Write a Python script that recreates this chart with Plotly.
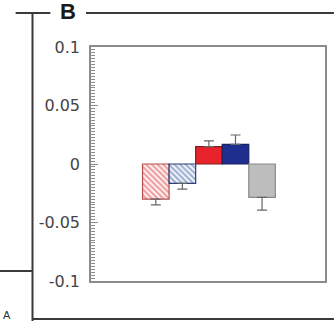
import plotly.graph_objects as go

categories = [0, 1, 2, 3, 4]
values = [-0.030, -0.0165, 0.0148, 0.0168, -0.0285]
errors = [0.005, 0.005, 0.005, 0.008, 0.011]
tick_vals = [-0.1, -0.05, 0, 0.05, 0.1]
tick_text = ["-0.1", "-0.05", "0", "0.05", "0.1"]

fill_colors = ["white", "white", "#e8232b", "#1f2f8f", "#bdbdbd"]
line_colors = ["#b05050", "#2a3f7a", "#7a2020", "#1a2060", "#8a8a8a"]
pat_shapes = ["\\", "\\", "", "", ""]
pat_fg = ["#e0403f", "#3f63a8", "#e8232b", "#1f2f8f", "#bdbdbd"]

W, H = 335, 321
L, R, T, B = 91, 8, 47, 40
pw, ph = W - L - R, H - T - B


def px(x):
    return (x - L) / pw


def py(y):
    return (H - B - y) / ph


fig = go.Figure()
for i, (c, v, e) in enumerate(zip(categories, values, errors)):
    marker = dict(color=fill_colors[i], line=dict(color=line_colors[i], width=1.2))
    if pat_shapes[i]:
        marker["pattern"] = dict(shape=pat_shapes[i], fgcolor=pat_fg[i], bgcolor="white",
                                 size=4, solidity=0.6, fillmode="overlay")
    fig.add_trace(go.Bar(
        x=[c], y=[v], width=1, marker=marker,
        error_y=dict(type="data", symmetric=False,
                     array=[e if v > 0 else 0], arrayminus=[e if v < 0 else 0],
                     color="#666666", thickness=1.2, width=5),
        showlegend=False,
    ))

line_col = "#3a3a3a"
shapes = [
    dict(type="line", xref="paper", yref="paper", x0=px(15), x1=px(50), y0=py(13), y1=py(13),
         line=dict(color=line_col, width=2)),
    dict(type="line", xref="paper", yref="paper", x0=px(86), x1=px(336), y0=py(13), y1=py(13),
         line=dict(color=line_col, width=2)),
    dict(type="line", xref="paper", yref="paper", x0=px(32), x1=px(32), y0=py(13), y1=py(322),
         line=dict(color=line_col, width=2)),
    dict(type="line", xref="paper", yref="paper", x0=px(-1), x1=px(32), y0=py(271), y1=py(271),
         line=dict(color=line_col, width=2)),
    dict(type="line", xref="paper", yref="paper", x0=px(32), x1=px(336), y0=py(319), y1=py(319),
         line=dict(color=line_col, width=2)),
]

annotations = [
    dict(text="<b>B</b>", xref="paper", yref="paper", x=px(68), y=py(11),
         xanchor="center", yanchor="middle", showarrow=False,
         font=dict(family="Liberation Sans, Arial", size=22, color="#1a1a1a")),
    dict(text="A", xref="paper", yref="paper", x=px(0), y=py(323),
         xanchor="left", yanchor="bottom", showarrow=False,
         font=dict(family="Liberation Sans, Arial", size=11, color="#333333")),
]

fig.update_layout(
    width=W, height=H,
    margin=dict(l=L, r=R, t=T, b=B),
    paper_bgcolor="white", plot_bgcolor="white",
    shapes=shapes, annotations=annotations, barmode="overlay",
    xaxis=dict(range=[-2.44, 6.37], showticklabels=False, ticks="", showgrid=False,
               zeroline=False, showline=True, linecolor="#8c8c8c", linewidth=1.5, mirror=True),
    yaxis=dict(range=[-0.1, 0.1], tickmode="linear", tick0=0, dtick=0.05,
               labelalias={"\u22120.05": "-0.05", "\u22120.1": "-0.1"},
               ticks="inside", ticklen=7, tickcolor="#8c8c8c", tickwidth=1,
               minor=dict(dtick=0.0025, ticks="inside", ticklen=4, tickcolor="#8c8c8c", tickwidth=1),
               showgrid=False, zeroline=False, showline=True, linecolor="#8c8c8c",
               linewidth=1.5, mirror=True, ticklabelstandoff=6,
               tickfont=dict(family="DejaVu Sans", size=16, color="#444444")),
)

fig.write_html("out.html")
